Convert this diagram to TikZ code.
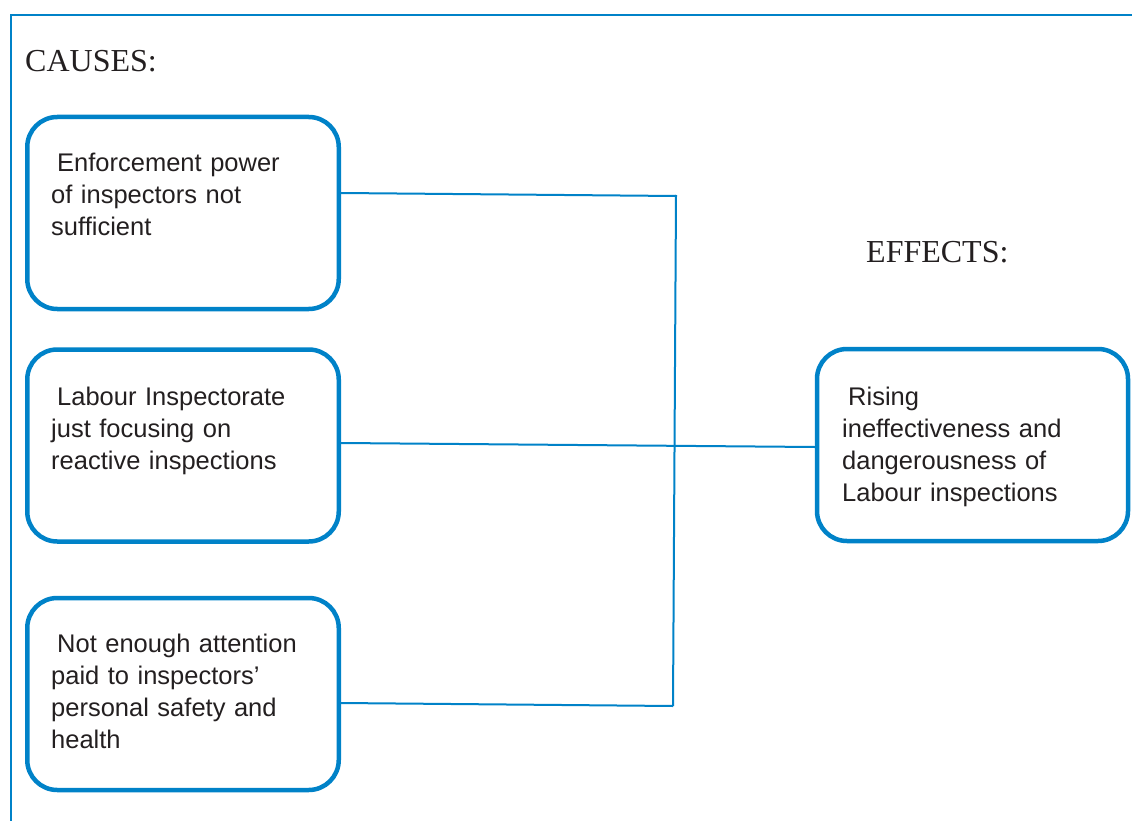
\documentclass[tikz,border=0pt]{standalone}
\usepackage{fontspec}
\setmainfont{Liberation Sans}
\newfontfamily\headfont{Liberation Serif}
\definecolor{frameblue}{RGB}{0,130,200}
\definecolor{inkgray}{RGB}{35,31,32}
\begin{document}
\begin{tikzpicture}[x=1pt,y=-1pt,
  causebox/.style={draw=frameblue, line width=4.5pt, rounded corners=30pt,
    minimum width=311.5pt, minimum height=192pt, inner sep=0pt},
  boxtext/.style={anchor=base west, inner sep=0pt, text width=300pt, align=left,
    font=\fontsize{25.5}{32}\selectfont, text=inkgray},
  heading/.style={anchor=base west, inner sep=0pt,
    font=\headfont\fontsize{32}{38}\selectfont, text=inkgray},
  link/.style={draw=frameblue, line width=2pt}]
\useasboundingbox (0,0) rectangle (1132,821);
% outer frame
\draw[frameblue, line width=2pt] (11,822) -- (11,15) -- (1133,15);
% headings
\node[heading] (causes) at (25,72) {CAUSES:};
\node[heading] (effects) at (866,262) {EFFECTS:};
% boxes
\node[causebox] (b1) at (183,213) {};
\node[causebox] (b2) at (183,445.5) {};
\node[causebox] (b3) at (183,694) {};
\node[causebox, minimum width=311pt] (e1) at (972.5,445) {};
% texts
\node[boxtext] (t1) at (51,172) {\hspace*{6pt}Enforcement power\\of inspectors not\\sufficient};
\node[boxtext] (t2) at (51,405) {\hspace*{6pt}Labour Inspectorate\\just focusing on\\reactive inspections};
\node[boxtext] (t3) at (51,652) {\hspace*{6pt}Not enough attention\\paid to inspectors'\\personal safety and\\health};
\node[boxtext] (te) at (842,405) {\hspace*{6pt}Rising\\ineffectiveness and\\dangerousness of\\Labour inspections};
% connectors
\coordinate (j1) at (676,196);
\coordinate (j3) at (673,706);
\draw[link] ([yshift=20pt]b1.east) -- (j1);
\draw[link] ([yshift=-9pt]b3.east) -- (j3);
\draw[link] ([yshift=1pt]j1) -- (j3);
\draw[link] ([yshift=2.5pt]b2.east) -- ([yshift=-2pt]e1.west);
\end{tikzpicture}
\end{document}
